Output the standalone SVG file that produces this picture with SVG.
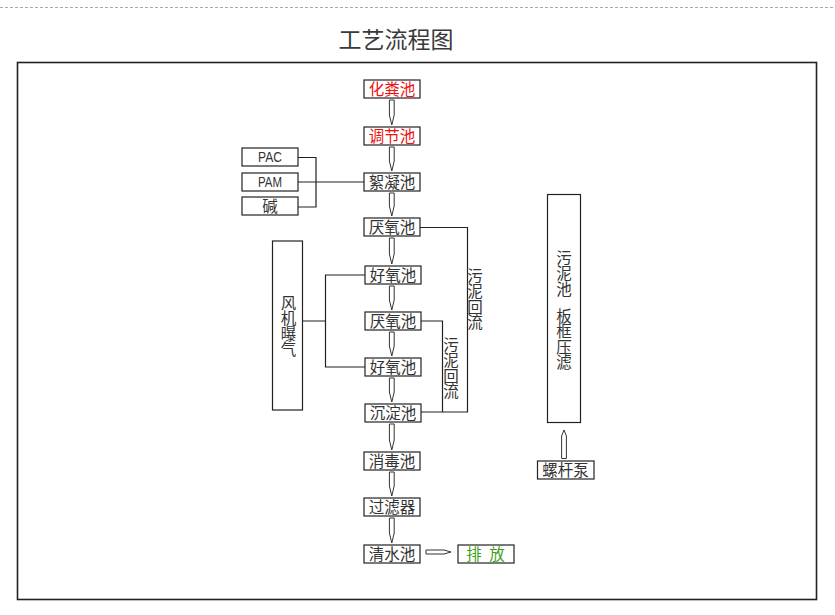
<svg xmlns="http://www.w3.org/2000/svg" width="835" height="615" viewBox="0 0 835 615">
<style>
text{font-family:"Noto Sans CJK SC","Noto Sans",sans-serif;fill:#333;}
.t{font-size:15.5px;text-anchor:middle;}
.v{font-size:15.5px;writing-mode:vertical-rl;text-anchor:start;}
.box{fill:#fff;stroke:#222;stroke-width:1.2;}
.ln{fill:none;stroke:#222;stroke-width:1.2;}
.ar{fill:#fff;stroke:#333;stroke-width:1;}
.red{fill:#ee1111;}
.grn{fill:#3f9f1a;}
.lat{font-family:"Liberation Sans",Arial,sans-serif;font-size:14px;text-anchor:middle;}
</style>
<rect width="835" height="615" fill="#fff"/>
<line x1="0" y1="7.5" x2="835" y2="7.5" stroke="#aaa" stroke-width="1" stroke-dasharray="3 2"/>
<text x="396" y="48" style="font-size:23px;text-anchor:middle;fill:#3a3a3a">工艺流程图</text>
<rect x="17.5" y="62.5" width="799" height="537" fill="none" stroke="#222" stroke-width="1.6"/>

<g id="connectors">
<path class="ln" d="M298 157.5 H316 V207 H298 M298 182 H364"/>
<path class="ln" d="M420 227.5 H467.5 V412 H421"/>
<path class="ln" d="M421 321 H442.5 V412"/>
<path class="ln" d="M302.5 321 H325.5 M365 275 H325.5 V367 H365"/>
<path class="ar" d="M389.4 100 H394.2 V115 L391.8 125 L389.4 115 Z"/>
<path class="ar" d="M389.4 147 H394.2 V161 L391.8 171 L389.4 161 Z"/>
<path class="ar" d="M389.4 193 H394.2 V206 L391.8 216 L389.4 206 Z"/>
<path class="ar" d="M389.4 238 H394.2 V254 L391.8 264 L389.4 254 Z"/>
<path class="ar" d="M389.4 286 H394.2 V300 L391.8 310 L389.4 300 Z"/>
<path class="ar" d="M389.4 332 H394.2 V346 L391.8 356 L389.4 346 Z"/>
<path class="ar" d="M389.4 378 H394.2 V392 L391.8 402 L389.4 392 Z"/>
<path class="ar" d="M389.4 424 H394.2 V440 L391.8 450 L389.4 440 Z"/>
<path class="ar" d="M389.4 472 H394.2 V486 L391.8 496 L389.4 486 Z"/>
<path class="ar" d="M389.4 518 H394.2 V533 L391.8 543 L389.4 533 Z"/>
<path class="ar" d="M426 550 H444 L451 552 L444 554 H426 Z"/>
<path class="ar" d="M561.6 458.5 V436 L564 430 L566.4 436 V458.5 Z"/>
<text class="v" x="475" y="268">污泥回流</text>
<text class="v" x="451" y="337">污泥回流</text>
</g>

<g id="n-huafenchi"><rect class="box" x="364" y="80" width="56" height="18"/><text class="t red" x="392" y="95">化粪池</text></g>
<g id="n-tiaojiechi"><rect class="box" x="364" y="127" width="56" height="18"/><text class="t red" x="392" y="142">调节池</text></g>
<g id="n-xuningchi"><rect class="box" x="364" y="173" width="56" height="18"/><text class="t" x="392" y="188">絮凝池</text></g>
<g id="n-yanyang1"><rect class="box" x="364" y="218" width="56" height="18"/><text class="t" x="392" y="233">厌氧池</text></g>
<g id="n-haoyang1"><rect class="box" x="365" y="266" width="56" height="18"/><text class="t" x="393" y="281">好氧池</text></g>
<g id="n-yanyang2"><rect class="box" x="365" y="312" width="56" height="18"/><text class="t" x="393" y="327">厌氧池</text></g>
<g id="n-haoyang2"><rect class="box" x="365" y="358" width="56" height="18"/><text class="t" x="393" y="373">好氧池</text></g>
<g id="n-chendian"><rect class="box" x="365" y="404" width="56" height="18"/><text class="t" x="393" y="419">沉淀池</text></g>
<g id="n-xiaodu"><rect class="box" x="364" y="452" width="56" height="18"/><text class="t" x="392" y="467">消毒池</text></g>
<g id="n-guolv"><rect class="box" x="364" y="498" width="56" height="18"/><text class="t" x="392" y="513">过滤器</text></g>
<g id="n-qingshui"><rect class="box" x="364" y="545" width="56" height="18"/><text class="t" x="392" y="560">清水池</text></g>
<g id="n-paifang"><rect class="box" x="458" y="545" width="56" height="18"/><text class="t grn" x="474 497" y="560">排放</text></g>
<g id="n-pac"><rect class="box" x="242" y="148" width="56" height="18"/><text class="lat" x="270" y="162" textLength="24" lengthAdjust="spacingAndGlyphs">PAC</text></g>
<g id="n-pam"><rect class="box" x="242" y="173" width="56" height="18"/><text class="lat" x="270" y="187" textLength="24" lengthAdjust="spacingAndGlyphs">PAM</text></g>
<g id="n-jian"><rect class="box" x="242" y="197" width="56" height="18"/><text class="t" x="270" y="212">碱</text></g>
<g id="n-fengji"><rect class="box" x="272.5" y="241" width="30" height="169"/>
<text class="v" x="288.5" y="295">风机曝气</text></g>
<g id="n-yalv"><rect class="box" x="547.5" y="194.5" width="33" height="228"/>
<text class="v" x="564" y="250">污泥池</text><text class="v" x="564" y="308">板框压滤</text></g>
<g id="n-luoganbeng"><rect class="box" x="537.5" y="461" width="56.5" height="18"/><text class="t" x="565.5" y="476">螺杆泵</text></g>
</svg>
